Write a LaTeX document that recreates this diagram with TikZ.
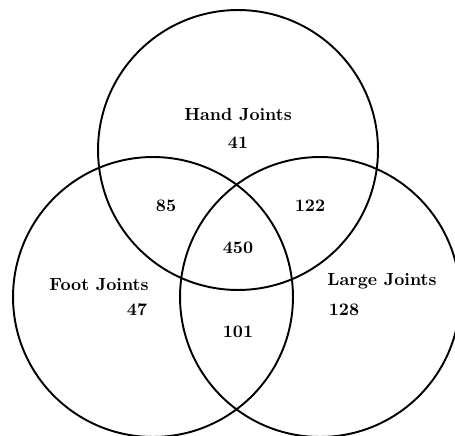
\documentclass[tikz,border=0pt]{standalone}
\usepackage{tikz}

\begin{document}
\begin{tikzpicture}[
      x=0.02cm,y=-0.02cm,
      ring/.style={draw=black,line width=1.1pt,circle,minimum size=5.6cm,inner sep=0pt},
      setname/.style={font=\bfseries},
      count/.style={font=\bfseries}
    ]
    \path[use as bounding box] (0,0) rectangle (455,435);
    \node[ring] (hand) at (238,150) {};
    \node[ring] (foot) at (153,297) {};
    \node[ring] (large) at (320,297) {};

    \node[setname] (handlbl) at (238,115) {Hand Joints};
    \node[count] (handonly) at (238,143) {41};
    \node[setname] (footlbl) at (99,285) {Foot Joints};
    \node[count] (footonly) at (137,310) {47};
    \node[setname] (largelbl) at (382,281) {Large Joints};
    \node[count] (largeonly) at (344,310) {128};

    \node[count] (handfoot) at (166,206) {85};
    \node[count] (handlarge) at (310,206) {122};
    \node[count] (footlarge) at (238,332) {101};
    \node[count] (allthree) at (238,248) {450};
  \end{tikzpicture}
\end{document}
